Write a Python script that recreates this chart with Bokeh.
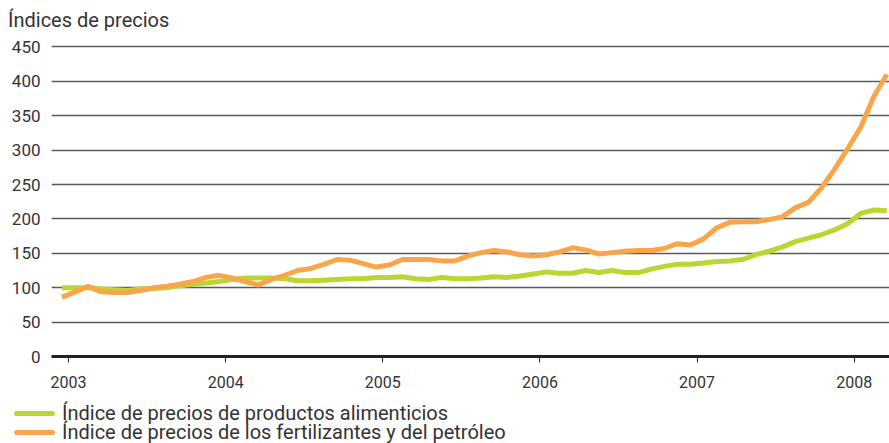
from bokeh.plotting import figure
from bokeh.models import Range1d, FixedTicker, Div
from bokeh.layouts import column
from bokeh.embed import file_html
from bokeh.resources import INLINE

# Monthly index values (first point mid-Dec 2002, last Mar 2008)
alimentos = [100, 100, 100, 98, 97, 96, 98, 99, 100, 103, 105, 107, 109, 112, 114, 114,
             114, 113, 110, 110, 111, 112, 113, 113, 115, 115, 116, 113, 112, 115, 113, 113,
             114, 116, 115, 117, 120, 123, 121, 121, 125, 122, 125, 122, 122, 127, 131, 134,
             134, 136, 138, 139, 141, 148, 153, 159, 167, 172, 177, 184, 193, 208, 213, 212]
fertilizantes = [86, 94, 102, 94, 93, 93, 96, 100, 102, 105, 109, 115, 118, 114, 109, 104,
                 112, 118, 125, 128, 134, 141, 140, 135, 130, 133, 141, 141, 141, 139, 139, 146,
                 151, 154, 152, 148, 146, 148, 152, 158, 155, 149, 151, 153, 154, 154, 157, 164,
                 162, 171, 187, 195, 196, 196, 199, 203, 216, 224, 245, 272, 302, 333, 378, 410]
year_ticks = [2003, 2004, 2005, 2006, 2007, 2008]
y_ticks = [0, 50, 100, 150, 200, 250, 300, 350, 400, 450]
title_text = "Índices de precios"
labels = ["Índice de precios de productos alimenticios",
          "Índice de precios de los fertilizantes y del petróleo"]

x = [2003 + (i - 0.5) / 12 for i in range(len(alimentos))]

FONT = "Roboto"
TXT = "#333333"
GREEN = "#BCD631"
ORANGE = "#F9A64B"

# Title strip
title_html = (f'<div style="position:relative;width:889px;height:30px;'
              f'font-family:{FONT};font-size:20px;color:{TXT};">'
              f'<div style="position:absolute;left:8px;top:10px;line-height:20px;'
              f'white-space:nowrap;">{title_text}</div></div>')
ttl = Div(text=title_html, width=889, height=30, margin=0)

p = figure(width=889, height=370, output_backend="svg", toolbar_location=None,
           x_range=Range1d(2003 - 1.3 / 12, 2003 + 62.7 / 12),
           y_range=Range1d(0, 455),
           min_border_left=51, min_border_right=0, min_border_top=13,
           min_border_bottom=44, title=None)
p.outline_line_color = None
p.background_fill_color = "white"
p.border_fill_color = "white"

# grid
p.xgrid.grid_line_color = None
p.ygrid.ticker = FixedTicker(ticks=y_ticks[1:])
p.ygrid.grid_line_color = "#5a5a5a"
p.ygrid.grid_line_width = 1.6

# axes
p.yaxis.ticker = FixedTicker(ticks=y_ticks)
p.yaxis.axis_line_color = None
p.yaxis.major_tick_line_color = None
p.yaxis.minor_tick_line_color = None
p.yaxis.major_label_text_font = FONT
p.yaxis.major_label_text_font_size = "17px"
p.yaxis.major_label_text_color = TXT
p.yaxis.major_label_standoff = 5

p.xaxis.ticker = FixedTicker(ticks=year_ticks)
p.xaxis.axis_line_color = "#222222"
p.xaxis.axis_line_width = 3
p.xaxis.major_tick_line_color = "#222222"
p.xaxis.major_tick_line_width = 1
p.xaxis.major_tick_out = 6
p.xaxis.major_tick_in = 0
p.xaxis.minor_tick_line_color = None
p.xaxis.major_label_text_font = FONT
p.xaxis.major_label_text_font_size = "16px"
p.xaxis.major_label_text_color = TXT
p.xaxis.major_label_standoff = 13

p.line(x, alimentos, line_color=GREEN, line_width=5, line_join="round")
p.line(x, fertilizantes, line_color=ORANGE, line_width=5, line_join="round")

# Legend strip below the chart
def entry(color, label, top):
    return (f'<div style="position:absolute;left:14px;top:{top + 7}px;width:41px;'
            f'height:5px;border-radius:3px;background:{color};"></div>'
            f'<div style="position:absolute;left:62px;top:{top}px;line-height:19px;'
            f'white-space:nowrap;">{label}</div>')

legend_html = ('<div style="position:relative;width:889px;height:43px;'
               f'font-family:{FONT};font-size:20px;color:{TXT};">'
               + entry(GREEN, labels[0], 4) + entry(ORANGE, labels[1], 23) + '</div>')
lg = Div(text=legend_html, width=889, height=43, margin=0)

layout = column(ttl, p, lg, spacing=0)
open("out.html", "w").write(file_html(layout, INLINE))
